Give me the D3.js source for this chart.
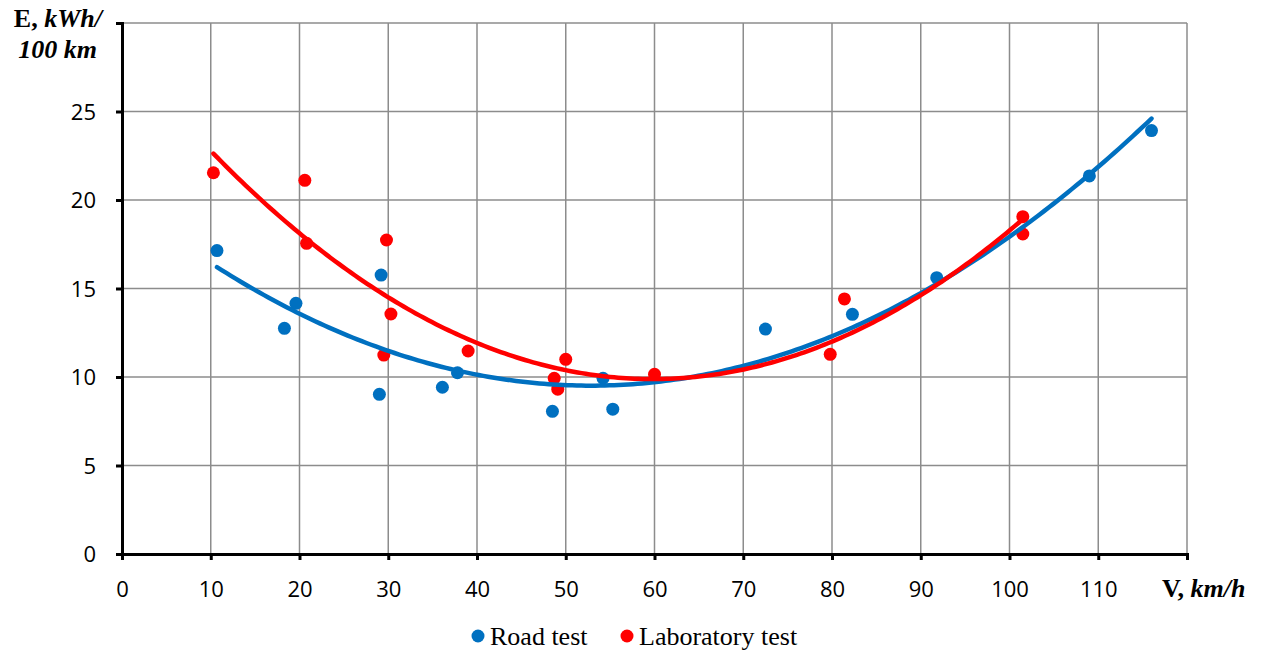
<!DOCTYPE html>
<html>
<head>
<meta charset="utf-8">
<script src="https://cdn.jsdelivr.net/npm/d3@7"></script>
<style>
  html, body { margin: 0; padding: 0; background: #fff; }
  svg { display: block; }
</style>
</head>
<body>
<svg id="chart" width="1263" height="652"></svg>
<script>
// ---- data ----
const roadV = [10.7, 18.3, 19.6, 29.0, 29.2, 36.1, 37.8, 48.5, 54.2, 55.3, 72.5, 82.3, 91.8, 109.0, 116.0];
const roadE = [17.14, 12.75, 14.16, 9.02, 15.76, 9.42, 10.24, 8.06, 9.93, 8.18, 12.71, 13.54, 15.61, 21.36, 23.92];
const labV  = [10.3, 20.6, 20.8, 29.5, 29.8, 30.3, 39.0, 48.7, 49.1, 50.0, 60.0, 79.8, 81.4, 101.5, 101.5];
const labE  = [21.54, 21.11, 17.55, 11.24, 17.74, 13.56, 11.47, 9.93, 9.31, 11.0, 10.15, 11.28, 14.41, 19.06, 18.08];
const xTicks = [0, 10, 20, 30, 40, 50, 60, 70, 80, 90, 100, 110, 120];
const yTicks = [0, 5, 10, 15, 20, 25, 30];
const seriesNames = ["Road test", "Laboratory test"];
const seriesColors = ["#0070C0", "#FF0000"];

// ---- helpers ----
function polyfit2(xs, ys) {
  // least squares quadratic fit (Excel-style polynomial trendline)
  let S = [0,0,0,0,0], T = [0,0,0];
  xs.forEach((x, i) => {
    let p = 1;
    for (let k = 0; k < 5; k++) { S[k] += p; if (k < 3) T[k] += p * ys[i]; p *= x; }
  });
  const A = [[S[0],S[1],S[2],T[0]],[S[1],S[2],S[3],T[1]],[S[2],S[3],S[4],T[2]]];
  for (let c = 0; c < 3; c++) {
    let piv = c;
    for (let r = c+1; r < 3; r++) if (Math.abs(A[r][c]) > Math.abs(A[piv][c])) piv = r;
    [A[c], A[piv]] = [A[piv], A[c]];
    for (let r = 0; r < 3; r++) if (r !== c) {
      const f = A[r][c] / A[c][c];
      for (let k = c; k < 4; k++) A[r][k] -= f * A[c][k];
    }
  }
  return [A[0][3]/A[0][0], A[1][3]/A[1][1], A[2][3]/A[2][2]];
}

const svg = d3.select("#chart");
const x = d3.scaleLinear().domain([0, 120]).range([122, 1187]);
const y = d3.scaleLinear().domain([0, 30]).range([554, 23]);

// gridlines
const grid = svg.append("g");
grid.selectAll("line.v").data(xTicks.filter(d => d > 0)).enter().append("line")
  .attr("x1", d => x(d)).attr("x2", d => x(d))
  .attr("y1", y(0)).attr("y2", y(30))
  .attr("stroke", "#8c8c8c").attr("stroke-width", 1.5);
grid.selectAll("line.h").data(yTicks.filter(d => d > 0)).enter().append("line")
  .attr("x1", x(0)).attr("x2", x(120))
  .attr("y1", d => y(d)).attr("y2", d => y(d))
  .attr("stroke", "#8c8c8c").attr("stroke-width", 1.5);

// axes
const xAxis = d3.axisBottom(x).tickValues(xTicks).tickSize(6).tickFormat(d => d === 120 ? "" : d);
const yAxis = d3.axisLeft(y).tickValues(yTicks).tickSize(6).tickFormat(d => d === 30 ? "" : d);

const gx = svg.append("g").attr("transform", `translate(0,${y(0)})`).call(xAxis);
const gy = svg.append("g").attr("transform", `translate(${x(0)},0)`).call(yAxis);
[gx, gy].forEach(g => {
  g.select(".domain").attr("stroke", "#000").attr("stroke-width", 3);
  g.selectAll(".tick line").attr("stroke", "#000").attr("stroke-width", 3);
  g.selectAll(".tick text").attr("fill", "#000")
    .style("font-family", "'Open Sans', sans-serif").style("font-size", "22px");
});
gx.selectAll(".tick text").attr("y", 0).attr("dy", 0).attr("transform", "translate(0,43)");
gy.selectAll(".tick text").attr("x", -26).attr("dy", "0.36em");

// axis titles
const titleFont = "'Liberation Serif', 'Times New Roman', serif";
const t1 = svg.append("text").attr("x", 102).attr("y", 27).attr("text-anchor", "end")
  .style("font-family", titleFont).style("font-size", "26px").style("font-weight", "bold");
t1.append("tspan").text("E, ");
t1.append("tspan").style("font-style", "italic").text("kWh/");
svg.append("text").attr("x", 97).attr("y", 58).attr("text-anchor", "end")
  .style("font-family", titleFont).style("font-size", "26px").style("font-weight", "bold")
  .style("font-style", "italic").text("100 km");
const t3 = svg.append("text").attr("x", 1162).attr("y", 597).attr("text-anchor", "start")
  .style("font-family", titleFont).style("font-size", "26px").style("font-weight", "bold");
t3.append("tspan").text("V, ");
t3.append("tspan").style("font-style", "italic").text("km/h");

// series
const series = [
  { name: seriesNames[0], color: seriesColors[0], v: roadV, e: roadE },
  { name: seriesNames[1], color: seriesColors[1], v: labV, e: labE }
];

series.forEach(s => {
  svg.append("g").selectAll("circle").data(s.v.map((v, i) => [v, s.e[i]])).enter()
    .append("circle")
    .attr("cx", d => x(d[0])).attr("cy", d => y(d[1])).attr("r", 6.5)
    .attr("fill", s.color);
});

series.forEach(s => {
  const c = polyfit2(s.v, s.e);
  const [lo, hi] = d3.extent(s.v);
  const pts = d3.range(0, 201).map(i => {
    const v = lo + (hi - lo) * i / 200;
    return [v, c[0] + c[1]*v + c[2]*v*v];
  });
  svg.append("path").datum(pts)
    .attr("d", d3.line().x(d => x(d[0])).y(d => y(d[1])))
    .attr("fill", "none").attr("stroke", s.color).attr("stroke-width", 4.5)
    .attr("stroke-linecap", "round");
});

// legend
const legendPos = [[478, 490], [627, 639]];
series.forEach((s, i) => {
  svg.append("circle").attr("cx", legendPos[i][0]).attr("cy", 636).attr("r", 6.5).attr("fill", s.color);
  svg.append("text").attr("x", legendPos[i][1]).attr("y", 645)
    .style("font-family", titleFont).style("font-size", "26px").attr("fill", "#000")
    .text(s.name);
});
</script>
</body>
</html>
